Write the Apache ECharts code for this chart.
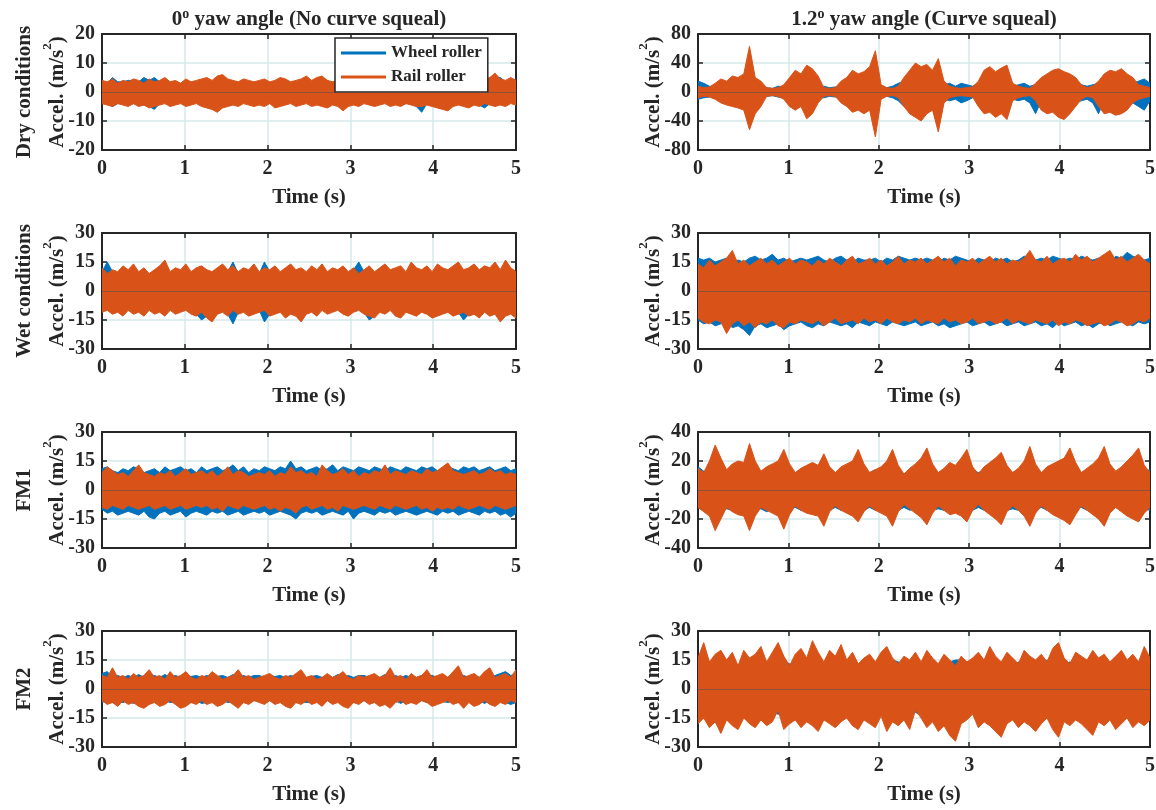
<!DOCTYPE html>
<html><head><meta charset="utf-8">
<script src="https://cdn.jsdelivr.net/npm/echarts@6/dist/echarts.min.js"></script>
<style>html,body{margin:0;padding:0;background:#fff}#chart{width:1156px;height:810px}</style>
</head><body><div id="chart"></div>
<script>
// ---------- DATA ----------
const timeRange = [0, 5];
const timeInterval = 1;
const seriesNames = ['Wheel roller', 'Rail roller'];
const columnTitles = ['0{sup|o} yaw angle (No curve squeal)', '1.2{sup|o} yaw angle (Curve squeal)'];
const rowLabels = ['Dry conditions', 'Wet conditions', 'FM1', 'FM2'];
const xAxisLabel = 'Time (s)';
const yAxisLabel = 'Accel. (m/s{sup|2})';
// [min, max, interval] of each panel's y axis (row-major)
const yRanges = [[-20,20,10],[-80,80,40],[-30,30,15],[-30,30,15],[-30,30,15],[-40,40,20],[-30,30,15],[-30,30,15]];

// Signals: upper (Hi) and lower (Lo) extremes of each trace, 80 samples over 0–5 s
const dry0WheelHi = [4,3,5,3.5,3.5,4,4,3.5,5,4, 5,3.5,4,3,3.5,3,4,3,3.5,4, 4,3.5,4.5,5,4,3.5,3,4,3.5,3, 3.5,4,3,3.5,4.5,4,3,3.5,4,4.5, 3.5,4.5,4.5,4,3,3.5,4,3,3.5,3, 3.5,3,4,3.5,3,3.5,4,3.5,3,4, 3.5,3,4,4.5,3.5,4,3.5,4.5,4,3.5, 4,4.5,3.5,4,4.5,5,5,3.5,4.5,4];
const dry0WheelLo = [-4,-4,-5,-4,-4,-4.5,-4,-4.5,-4.5,-5, -6,-4,-3.5,-4.5,-4,-3.5,-4.5,-4,-3.5,-4.5, -5,-5.5,-6,-5,-4.5,-4,-4.5,-3.5,-4,-4.5, -4,-4.5,-3.5,-5,-4.5,-4,-3.5,-4.5,-4,-3.5, -4.5,-4,-4.5,-5,-4,-4.5,-6,-4.5,-4,-4.5, -3.5,-4,-4.5,-4,-3.5,-4.5,-4,-4.5,-4,-4, -5,-7,-4,-4.5,-5,-5.5,-6,-4.5,-4,-4.5, -5,-4,-4.5,-5.5,-4,-4.5,-4,-4.5,-3.5,-4];
const dry0RailHi = [4,3.5,4.5,3,4,3.5,4.5,4,3,4.5, 3.5,4,5,3.5,4,3,4.5,3.5,4,4.5, 5,4,5.5,6,4.5,4,3.5,4.5,4,3.5, 4,4.5,3.5,4,5,4.5,3.5,4,4.5,5.5, 4,5,5.5,4,3.5,4,4.5,3.5,4,3, 4,3.5,4.5,4,3.5,4,4.5,4,3.5,4.5, 4,3.5,4.5,5,4,4.5,4,5,4.5,4, 4.5,5,4,4.5,5,6.5,4.5,4,5,4];
const dry0RailLo = [-4,-4.5,-5,-4,-4.5,-5,-4,-5,-4.5,-5.5, -5,-4.5,-4,-5,-4.5,-4,-5,-4.5,-4,-5, -5.5,-6,-7,-5.5,-5,-4.5,-5,-4,-4.5,-5, -4.5,-5,-4,-5.5,-5,-4.5,-4,-5,-4.5,-4, -5,-4.5,-5,-5.5,-4.5,-5,-6.5,-5,-4.5,-5, -4,-4.5,-5,-4.5,-4,-5,-4.5,-5,-4,-4.5, -5,-5,-4.5,-5,-5.5,-6,-6.5,-5,-4.5,-5, -5.5,-4.5,-5,-4,-4.5,-5,-4.5,-5,-4,-4.5];

const dry12WheelHi = [15,12,8,6,10,8,7,6,8,7, 6,5,6,5,8,7,10,8,6,7, 6,7,8,6,7,8,6,7,8,6, 5,6,7,6,8,12,15,14,12,8, 7,6,8,10,12,8,12,10,8,12, 10,8,7,8,10,8,10,12,8,10, 8,10,7,8,10,15,12,10,8,10, 12,8,10,8,10,7,12,15,18,12];
const dry12WheelLo = [-10,-8,-7,-6,-8,-7,-6,-5,-7,-6, -6,-5,-6,-5,-7,-8,-10,-8,-6,-7, -6,-7,-8,-6,-7,-8,-7,-6,-8,-7, -6,-5,-7,-6,-8,-12,-20,-18,-15,-10, -8,-7,-8,-10,-12,-10,-15,-12,-8,-10, -10,-8,-7,-9,-12,-10,-12,-10,-15,-30, -12,-10,-8,-10,-12,-20,-15,-12,-10,-15, -30,-12,-10,-15,-12,-10,-15,-20,-25,-12];
const dry12RailHi = [8,6,7,12,18,15,22,20,25,63, 20,15,6,5,6,10,20,30,25,37, 32,22,6,5,6,15,20,30,25,28, 35,57,10,6,5,8,20,30,40,35, 38,30,46,15,8,6,5,6,7,15, 30,35,28,33,37,12,8,6,5,12, 20,25,30,32,28,25,20,10,6,8, 15,25,30,28,32,25,20,10,8,6];
const dry12RailLo = [-8,-6,-7,-10,-15,-18,-20,-22,-25,-52, -30,-20,-6,-5,-6,-10,-20,-25,-20,-37, -30,-15,-6,-5,-6,-15,-20,-28,-25,-30, -25,-62,-10,-6,-5,-8,-20,-30,-35,-40, -30,-25,-55,-15,-8,-6,-5,-6,-7,-20, -30,-28,-35,-30,-38,-12,-8,-6,-5,-12, -25,-30,-28,-35,-38,-30,-20,-10,-6,-8, -20,-30,-28,-32,-30,-25,-15,-10,-8,-6];

const wet0WheelHi = [10,15,10,9,11,10,13,9,11,8, 10,12,13,9,11,10,12,9,11,12, 10,9,11,12,10,15,9,11,10,12, 9,15,10,12,9,11,12,10,11,9, 12,10,12,9,11,10,12,9,11,15, 10,12,9,11,13,10,11,12,9,13, 11,10,12,9,12,11,10,12,13,10, 11,13,10,12,11,13,10,14,11,9];
const wet0WheelLo = [-10,-9,-11,-10,-12,-9,-11,-10,-12,-9, -11,-10,-12,-9,-11,-10,-9,-11,-12,-15, -13,-14,-11,-10,-12,-17,-11,-10,-12,-11, -10,-16,-12,-11,-10,-13,-11,-12,-15,-11, -10,-12,-9,-11,-10,-9,-11,-12,-10,-9, -11,-15,-13,-10,-11,-9,-12,-13,-10,-11, -12,-10,-11,-13,-12,-11,-10,-12,-11,-15, -12,-11,-13,-10,-12,-11,-15,-12,-11,-13];
const wet0RailHi = [12,9,11,10,13,11,14,10,12,9, 11,13,16,10,12,11,14,10,12,13, 11,10,12,14,11,13,10,12,11,14, 10,12,11,13,10,12,14,11,12,10, 13,11,14,10,12,11,13,10,12,9, 11,13,10,12,14,11,12,13,10,15, 12,11,13,10,14,12,11,13,15,11, 12,14,11,13,12,15,11,16,12,10];
const wet0RailLo = [-11,-10,-12,-11,-13,-10,-12,-11,-13,-10, -12,-11,-13,-10,-12,-11,-10,-12,-13,-11, -14,-16,-12,-11,-13,-10,-12,-11,-13,-12, -11,-10,-13,-12,-11,-14,-12,-13,-16,-12, -11,-13,-10,-12,-11,-10,-12,-13,-11,-10, -12,-13,-14,-11,-12,-10,-13,-14,-11,-12, -13,-11,-12,-14,-13,-12,-11,-13,-12,-11, -13,-12,-14,-11,-13,-12,-16,-13,-12,-14];

const wet12WheelHi = [17,16,17,15,16,17,15,16,15,17, 18,16,17,19,16,17,15,16,17,16, 17,18,16,15,17,18,16,15,17,16, 16,17,15,17,16,18,17,16,17,16, 17,16,15,17,16,18,17,16,15,17, 16,15,17,16,17,15,16,18,17,16, 17,16,18,17,16,17,16,18,17,16, 17,16,15,18,17,20,18,17,16,17];
const wet12WheelLo = [-15,-17,-16,-18,-17,-16,-19,-18,-20,-23, -18,-17,-19,-18,-17,-20,-18,-17,-16,-18, -19,-17,-18,-16,-17,-18,-17,-19,-16,-17, -18,-16,-17,-18,-16,-17,-18,-17,-16,-18, -17,-16,-18,-17,-19,-18,-17,-16,-18,-17, -16,-18,-17,-16,-18,-17,-16,-18,-17,-16, -18,-17,-19,-16,-18,-17,-16,-18,-17,-19, -17,-16,-18,-17,-16,-17,-18,-16,-17,-16];
const wet12RailHi = [14,12,16,13,15,17,21,14,16,13, 15,17,14,16,13,15,17,14,16,15, 13,16,14,17,15,13,16,18,14,15, 17,14,16,13,15,18,14,16,15,17, 14,16,18,15,17,13,16,15,17,14, 16,18,15,17,14,16,15,17,21,16, 15,18,14,16,17,15,19,16,18,15, 17,19,21,16,18,15,17,19,16,14];
const wet12RailLo = [-14,-16,-17,-15,-16,-22,-17,-15,-18,-16, -19,-16,-17,-15,-18,-19,-16,-17,-15,-16, -17,-15,-18,-16,-14,-17,-16,-15,-17,-14, -16,-15,-17,-14,-16,-17,-15,-16,-14,-17, -15,-16,-17,-14,-16,-15,-17,-16,-14,-17, -16,-15,-17,-16,-14,-17,-15,-16,-17,-15, -16,-17,-15,-18,-16,-17,-15,-16,-18,-17, -16,-18,-17,-15,-16,-18,-17,-15,-16,-14];

const fm10WheelHi = [11,12,10,9,11,10,12,11,9,10, 11,9,12,10,11,12,10,11,9,12, 10,11,12,10,11,13,10,12,9,11, 10,12,11,10,12,11,15,11,12,10, 11,12,10,11,13,10,12,11,10,12, 11,10,12,11,10,12,11,10,12,11, 10,12,11,12,10,11,12,11,10,12, 11,12,10,11,12,10,11,12,10,11];
const fm10WheelLo = [-10,-12,-11,-13,-12,-11,-12,-13,-11,-14, -15,-12,-11,-13,-12,-11,-14,-12,-11,-12, -13,-11,-12,-11,-13,-12,-11,-13,-12,-11, -12,-11,-13,-12,-11,-12,-13,-15,-12,-11, -12,-11,-13,-12,-11,-12,-13,-11,-15,-12, -11,-12,-13,-11,-12,-11,-13,-12,-11,-12, -13,-12,-11,-12,-13,-11,-12,-11,-13,-12, -11,-12,-13,-11,-12,-11,-13,-12,-14,-12];
const fm10RailHi = [9,12,10,8,9,7,10,13,9,8, 7,9,8,10,7,9,11,8,9,10, 8,10,7,9,12,8,10,9,7,8, 9,8,10,7,9,8,12,9,10,8, 9,7,13,10,8,9,11,8,10,7, 9,8,10,9,13,8,10,9,8,10, 9,8,11,9,10,12,14,10,9,8, 9,10,8,9,11,9,10,8,9,8];
const fm10RailLo = [-9,-10,-8,-9,-10,-8,-9,-10,-9,-8, -10,-9,-8,-10,-9,-8,-10,-9,-8,-9, -8,-10,-9,-11,-8,-9,-10,-8,-9,-10, -9,-8,-10,-9,-11,-9,-10,-12,-9,-8, -10,-9,-8,-10,-9,-11,-8,-9,-10,-9, -8,-9,-10,-8,-9,-10,-8,-9,-10,-9, -8,-10,-9,-11,-9,-10,-9,-10,-8,-9, -10,-9,-8,-9,-10,-8,-9,-10,-9,-8];

const fm112WheelHi = [16,13,14,15,14,12,14,13,15,14, 14,12,15,13,14,15,13,12,14,13, 14,13,15,14,12,14,13,14,15,14, 12,14,13,15,14,14,11,14,13,15, 15,14,12,14,13,15,13,15,14,12, 14,12,15,15,14,12,14,13,15,14, 12,14,13,15,15,14,13,12,14,14, 15,14,13,12,14,15,15,14,13,14];
const fm112WheelLo = [-12,-14,-14,-15,-14,-13,-14,-13,-15,-14, -14,-13,-15,-13,-14,-15,-13,-12,-14,-13, -14,-13,-15,-14,-12,-14,-13,-14,-15,-14, -12,-14,-13,-15,-14,-14,-12,-14,-13,-15, -15,-14,-13,-14,-13,-15,-13,-15,-14,-12, -14,-13,-15,-15,-14,-13,-14,-13,-15,-14, -12,-14,-13,-15,-15,-14,-13,-12,-14,-14, -15,-14,-13,-12,-14,-15,-15,-14,-13,-14];
const fm112RailHi = [15,12,20,31,22,14,18,20,19,32, 20,13,16,18,20,28,18,12,15,17, 19,17,25,16,12,16,18,20,28,18, 12,14,16,20,28,17,11,15,18,22, 29,18,12,15,19,17,22,28,16,11, 16,19,22,26,17,12,15,20,30,18, 12,16,18,20,22,29,19,12,15,18, 22,30,18,13,16,20,24,29,17,12];
const fm112RailLo = [-12,-15,-18,-28,-20,-12,-15,-17,-18,-28, -18,-12,-14,-16,-18,-27,-17,-11,-14,-16, -17,-18,-25,-15,-11,-14,-16,-18,-22,-15, -11,-14,-16,-18,-25,-15,-10,-13,-16,-19, -24,-16,-11,-14,-17,-16,-18,-22,-14,-10, -14,-17,-20,-24,-15,-11,-14,-18,-25,-16, -11,-14,-17,-19,-21,-24,-17,-11,-14,-17, -20,-25,-16,-12,-15,-18,-20,-22,-16,-12];

const fm20WheelHi = [8,9,6,7,6,7,6,7.5,6,7, 7,6,7.5,6,7,6,7,6.5,7,6, 7,6,6.5,7,6,7.5,6,7,6,7, 7,6,7,6.5,7,6,7,6,7,6, 6.5,7,6,7,6,7.5,6,7,6,7, 7,6,7,6,7.5,6,7,6,7,6, 6,7,6.5,7,6,7,6,7.5,6,7, 6,7,6,7.5,6,7,8,9,7,8];
const fm20WheelLo = [-7,-6,-7,-6.5,-7,-6,-7.5,-6,-7,-6, -6,-7,-6,-7,-6.5,-7,-6,-7,-6,-7.5, -7,-6,-7,-6,-7,-6.5,-7,-6,-7,-6, -6,-7.5,-6,-7,-6,-7,-6,-7,-6.5,-7, -7,-6,-7,-6,-7.5,-6,-7,-6,-7,-6, -6,-7,-6.5,-7,-6,-7,-6,-7.5,-6,-7, -7,-6,-7,-6,-7,-6.5,-7,-6,-7,-6, -6,-7,-6,-7.5,-6,-7,-6,-7,-8,-7];
const fm20RailHi = [7,6,11,6,7,5,8,6,7,10, 6,7,5,9,6,7,9,6,5,7, 6,9,7,5,6,7,10,6,7,5, 6,7,8,6,5,7,6,8,10,6, 7,5,6,8,6,7,9,6,5,7, 6,7,8,6,7,11,6,7,5,8, 6,7,10,6,7,8,6,9,12,6, 7,8,6,9,11,6,7,8,6,10];
const fm20RailLo = [-6,-8,-7,-9,-6,-8,-7,-9,-10,-8, -7,-9,-8,-6,-8,-10,-9,-7,-8,-6, -8,-7,-9,-8,-6,-8,-10,-7,-8,-6, -7,-8,-6,-8,-7,-9,-10,-7,-8,-6, -8,-7,-9,-6,-8,-7,-9,-10,-7,-8, -6,-8,-7,-9,-8,-10,-7,-6,-8,-7, -8,-6,-7,-9,-8,-7,-6,-8,-7,-10, -7,-9,-8,-6,-8,-9,-7,-8,-6,-7];

const fm212WheelHi = [15,13,14,12,13,14,13,12,14,15, 13,14,12,13,14,15,13,12,14,13, 12,14,13,15,14,13,12,14,13,14, 13,12,14,13,15,14,13,15,14,12, 13,14,12,13,14,15,15,14,13,12, 14,13,12,14,13,12,14,13,15,14, 13,15,14,12,13,14,13,12,14,13, 14,13,14,15,13,12,14,13,14,15];
const fm212WheelLo = [-13,-12,-14,-13,-12,-14,-13,-12,-13,-14, -12,-13,-14,-12,-13,-13,-12,-14,-13,-12, -14,-13,-12,-14,-13,-12,-14,-13,-12,-13, -14,-12,-13,-14,-12,-13,-14,-13,-12,-14, -13,-12,-14,-13,-12,-14,-13,-12,-13,-14, -12,-13,-14,-12,-13,-14,-12,-13,-14,-12, -13,-12,-14,-13,-12,-14,-13,-12,-13,-14, -12,-13,-14,-12,-13,-14,-12,-13,-14,-13];
const fm212RailHi = [16,24,14,18,20,15,19,12,20,16, 18,22,14,19,24,17,12,18,21,16, 25,19,14,20,17,23,15,19,13,16, 18,14,19,22,16,13,17,15,19,14, 20,16,13,18,15,12,17,14,16,19, 15,22,17,14,19,16,13,20,17,15, 18,14,21,24,16,13,19,17,15,20, 16,18,14,17,20,15,18,14,22,16];
const fm212RailLo = [-18,-15,-20,-17,-23,-16,-19,-21,-15,-18, -20,-16,-19,-17,-11,-21,-18,-16,-20,-17, -19,-22,-16,-18,-20,-17,-15,-19,-21,-16, -18,-20,-14,-22,-17,-19,-16,-21,-11,-15, -20,-17,-22,-19,-24,-27,-18,-16,-13,-20, -17,-19,-22,-25,-18,-16,-20,-17,-19,-22, -18,-15,-21,-25,-17,-19,-16,-18,-21,-24, -17,-19,-16,-21,-18,-15,-20,-17,-19,-16];

// ---------- CHART ----------
const panels = [
  [dry0WheelHi, dry0WheelLo, dry0RailHi, dry0RailLo],
  [dry12WheelHi, dry12WheelLo, dry12RailHi, dry12RailLo],
  [wet0WheelHi, wet0WheelLo, wet0RailHi, wet0RailLo],
  [wet12WheelHi, wet12WheelLo, wet12RailHi, wet12RailLo],
  [fm10WheelHi, fm10WheelLo, fm10RailHi, fm10RailLo],
  [fm112WheelHi, fm112WheelLo, fm112RailHi, fm112RailLo],
  [fm20WheelHi, fm20WheelLo, fm20RailHi, fm20RailLo],
  [fm212WheelHi, fm212WheelLo, fm212RailHi, fm212RailLo]
];

const sampleTime = (i, n) => timeRange[0] + (timeRange[1] - timeRange[0]) * i / (n - 1);
// rows of [time, upper, lower]
const bandRows = (hi, lo) => hi.map((v, i) => [sampleTime(i, hi.length), v, lo[i]]);

// band polygon through the library's coordinate system (drawn once, for the first item)
function bandRenderer(color) {
  return function (params, api) {
    if (params.dataIndexInside !== 0) return null;
    const n = params.dataInsideLength;
    const upper = [], lower = [];
    for (let j = 0; j < n; j++) {
      const t = api.value(0, j);
      upper.push(api.coord([t, api.value(1, j)]));
      lower.push(api.coord([t, api.value(2, j)]));
    }
    const pts = upper.concat(lower.reverse());
    return {
      type: 'polygon', shape: { points: pts },
      style: { fill: color, stroke: color, lineWidth: 1, lineJoin: 'miter' },
      silent: true
    };
  };
}

const FONT = "'Liberation Serif','Times New Roman',serif";
const INK = '#262626';
const GRIDC = '#d4e9e9';
const BLUE = '#0072BD', ORANGE = '#D95319';
const colLeft = [102, 698], colWidth = [414, 452];
const rowTop = [34, 233, 432, 631], rowHeight = 116;

const supStyle = (fs, lh) => ({ sup: { fontSize: fs, lineHeight: lh, verticalAlign: 'top', fontFamily: FONT, fontWeight: 'bold', color: INK } });
const txt = (fs, extra) => Object.assign({ fontFamily: FONT, fontWeight: 'bold', fontSize: fs, color: INK }, extra || {});

const grids = [], xAxes = [], yAxes = [], series = [];
panels.forEach((p, k) => {
  const r = Math.floor(k / 2), c = k % 2;
  const [ymin, ymax, yint] = yRanges[k];
  grids.push({ left: colLeft[c], top: rowTop[r], width: colWidth[c], height: rowHeight, containLabel: false, outerBoundsMode: 'none' });
  const boxLine = { onZero: false, lineStyle: { color: INK, width: 2 } };
  const tick = { inside: true, length: 5, lineStyle: { color: INK, width: 1.5 } };
  xAxes.push({
    gridIndex: k, type: 'value', position: 'bottom', min: timeRange[0], max: timeRange[1], interval: timeInterval,
    axisLine: boxLine, axisTick: tick,
    axisLabel: txt(20, { margin: 9 }),
    splitLine: { show: true, lineStyle: { color: GRIDC, width: 1.5 } },
    name: xAxisLabel, nameLocation: 'middle', nameGap: 36, nameMoveOverlap: false,
    nameTextStyle: txt(21, { lineHeight: 24 })
  });
  xAxes.push({
    gridIndex: k, type: 'value', position: 'top', min: timeRange[0], max: timeRange[1], interval: timeInterval,
    axisLine: boxLine, axisTick: tick, axisLabel: { show: false }, splitLine: { show: false },
    name: r === 0 ? columnTitles[c] : '', nameLocation: 'middle', nameGap: 1, nameMoveOverlap: false,
    nameTextStyle: txt(21, { lineHeight: 26, rich: supStyle(14, 12) })
  });
  yAxes.push({
    gridIndex: k, type: 'value', position: 'left', min: ymin, max: ymax, interval: yint,
    axisLine: boxLine, axisTick: tick,
    axisLabel: txt(20, { margin: 7 }),
    splitLine: { show: true, lineStyle: { color: GRIDC, width: 1.5 } },
    name: (c === 0 ? rowLabels[r] + '\n' : '') + yAxisLabel,
    nameLocation: 'middle', nameGap: 28, nameRotate: 90, nameMoveOverlap: false,
    nameTextStyle: txt(21, { lineHeight: 33, rich: supStyle(13, 17) })
  });
  yAxes.push({
    gridIndex: k, type: 'value', position: 'right', min: ymin, max: ymax, interval: yint,
    axisLine: boxLine, axisTick: tick, axisLabel: { show: false }, splitLine: { show: false }
  });
  [[0, BLUE], [1, ORANGE]].forEach(([s, col]) => {
    const sr = {
      type: 'custom', name: seriesNames[s], xAxisIndex: 2 * k, yAxisIndex: 2 * k,
      coordinateSystem: 'cartesian2d', clip: true, silent: true, animation: false,
      data: bandRows(p[2 * s], p[2 * s + 1]),
      encode: { x: 0, y: [1, 2] },
      itemStyle: { color: col },
      renderItem: bandRenderer(col)
    };
    if (s === 1) {
      sr.markLine = { silent: true, symbol: ['none', 'none'], label: { show: false }, animation: false,
        lineStyle: { color: 'rgba(90,80,80,0.6)', width: 1, type: 'solid' }, data: [{ yAxis: 0 }] };
    }
    series.push(sr);
  });
});

const chart = echarts.init(document.getElementById('chart'), null, { renderer: 'canvas' });
chart.setOption({
  animation: false,
  backgroundColor: '#ffffff',
  grid: grids, xAxis: xAxes, yAxis: yAxes, series: series,
  legend: {
    data: seriesNames.map(n => ({ name: n, icon: 'rect' })), orient: 'vertical', left: 335, top: 38,
    itemWidth: 45, itemHeight: 3, itemGap: 4, padding: [5, 6, 5, 6],
    borderColor: INK, borderWidth: 1.5, borderRadius: 0, backgroundColor: '#ffffff',
    selectedMode: false, textStyle: txt(17, { lineHeight: 20 })
  }
});
</script>
</body></html>
